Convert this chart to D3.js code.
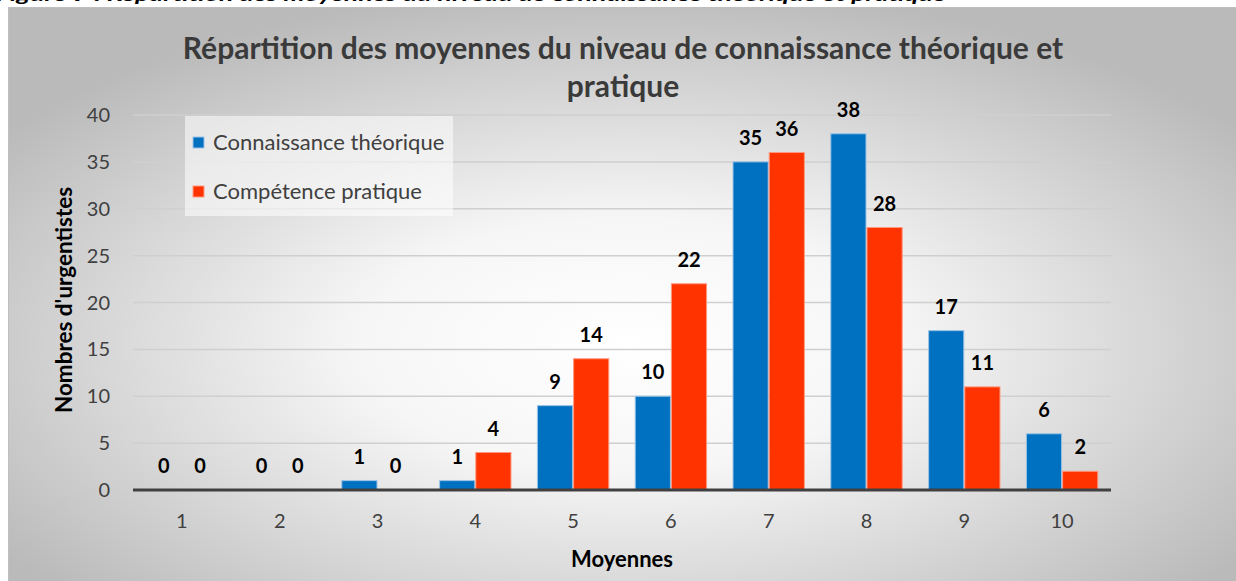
<!DOCTYPE html>
<html>
<head>
<meta charset="utf-8">
<script src="https://cdn.jsdelivr.net/npm/d3@7"></script>
<style>
  body { margin: 0; background: #fff; }
  svg { display: block; }
  text { font-family: Lato, "Open Sans", sans-serif; }
</style>
</head>
<body>
<div id="chart"></div>
<script>
var categories = ["1", "2", "3", "4", "5", "6", "7", "8", "9", "10"];
var seriesNames = ["Connaissance théorique", "Compétence pratique"];
var theorique = [0, 0, 1, 1, 9, 10, 35, 38, 17, 6];
var pratique = [0, 0, 0, 4, 14, 22, 36, 28, 11, 2];
var yTicks = [0, 5, 10, 15, 20, 25, 30, 35, 40];
var colors = ["#0070c0", "#ff3300"];
var strokes = ["#9dc3e6", "#ff9a80"];

var width = 1236, height = 581;
var margin = { top: 115, right: 125, bottom: 91, left: 133 };

var svg = d3.select("#chart").append("svg")
  .attr("width", width)
  .attr("height", height);

var defs = svg.append("defs");
var grad = defs.append("radialGradient")
  .attr("id", "bg")
  .attr("cx", 0.5).attr("cy", 0.58).attr("r", 0.62);
grad.append("stop").attr("offset", "0").attr("stop-color", "#ffffff");
grad.append("stop").attr("offset", "0.35").attr("stop-color", "#f6f6f6");
grad.append("stop").attr("offset", "1").attr("stop-color", "#bababa");

// caption of the page, cut at the top edge as in the scan
svg.append("text")
  .attr("x", -4).attr("y", 1)
  .attr("textLength", 950)
  .attr("lengthAdjust", "spacingAndGlyphs")
  .style("font-size", "17px")
  .style("font-weight", "bold")
  .style("font-style", "italic")
  .attr("fill", "#000")
  .text("Figure 9 : Répartition des moyennes du niveau de connaissance théorique et pratique");

svg.append("rect")
  .attr("x", 8.5).attr("y", 7.5)
  .attr("width", width).attr("height", height)
  .attr("fill", "url(#bg)")
  .attr("stroke", "#bfbfbf")
  .attr("stroke-width", 1);

var x0 = d3.scaleBand()
  .domain(categories)
  .range([margin.left, width - margin.right])
  .paddingInner(0.26)
  .paddingOuter(0.13);

var x1 = d3.scaleBand()
  .domain([0, 1])
  .range([0, x0.bandwidth()]);

var y = d3.scaleLinear()
  .domain([0, 40])
  .range([height - margin.bottom, margin.top]);

// gridlines
svg.append("g")
  .selectAll("line")
  .data(yTicks.slice(1))
  .enter().append("line")
  .attr("x1", margin.left).attr("x2", width - margin.right)
  .attr("y1", function (d) { return y(d); })
  .attr("y2", function (d) { return y(d); })
  .attr("stroke", "#cfcfcf")
  .attr("stroke-width", 1.5);

// y tick labels
svg.append("g")
  .selectAll("text")
  .data(yTicks)
  .enter().append("text")
  .attr("x", 110)
  .attr("y", function (d) { return y(d); })
  .attr("dy", "0.35em")
  .attr("text-anchor", "end")
  .attr("fill", "#404040")
  .style("font-size", "20px")
  .text(function (d) { return d; });

// bars
var groups = svg.append("g")
  .selectAll("g")
  .data(categories)
  .enter().append("g")
  .attr("transform", function (d) { return "translate(" + x0(d) + ",0)"; });

var series = [theorique, pratique];

groups.selectAll("rect")
  .data(function (d, i) { return series.map(function (s, k) { return { k: k, v: s[i] }; }); })
  .enter().append("rect")
  .attr("x", function (d) { return x1(d.k) + 0.5; })
  .attr("width", x1.bandwidth() - 1)
  .attr("y", function (d) { return y(d.v); })
  .attr("height", function (d) { return y(0) - y(d.v); })
  .attr("fill", function (d) { return colors[d.k]; })
  .attr("stroke", function (d) { return d.v > 0 ? strokes[d.k] : "none"; })
  .attr("stroke-width", 1);

groups.selectAll("text")
  .data(function (d, i) { return series.map(function (s, k) { return { k: k, v: s[i] }; }); })
  .enter().append("text")
  .attr("x", function (d) { return x1(d.k) + x1.bandwidth() / 2; })
  .attr("y", function (d) { return y(d.v) - 17; })
  .attr("text-anchor", "middle")
  .attr("fill", "#000")
  .style("font-size", "20px")
  .style("font-weight", "bold")
  .text(function (d) { return d.v; });

// x axis line
svg.append("line")
  .attr("x1", margin.left).attr("x2", width - margin.right)
  .attr("y1", y(0)).attr("y2", y(0))
  .attr("stroke", "#404040")
  .attr("stroke-width", 3);

// x tick labels
svg.append("g")
  .selectAll("text")
  .data(categories)
  .enter().append("text")
  .attr("x", function (d) { return x0(d) + x0.bandwidth() / 2; })
  .attr("y", 528)
  .attr("text-anchor", "middle")
  .attr("fill", "#404040")
  .style("font-size", "20px")
  .text(function (d) { return d; });

// titles
var title = svg.append("text")
  .attr("text-anchor", "middle")
  .attr("fill", "#3a3a3a")
  .style("font-size", "30px")
  .style("font-weight", "bold");
title.append("tspan").attr("x", 623).attr("y", 59)
  .text("Répartition des moyennes du niveau de connaissance théorique et");
title.append("tspan").attr("x", 623).attr("y", 97)
  .text("pratique");

svg.append("text")
  .attr("x", 622).attr("y", 567)
  .attr("text-anchor", "middle")
  .attr("fill", "#000")
  .style("font-size", "22px")
  .style("font-weight", "bold")
  .text("Moyennes");

svg.append("text")
  .attr("transform", "translate(72,300) rotate(-90)")
  .attr("text-anchor", "middle")
  .attr("fill", "#000")
  .style("font-size", "22.5px")
  .style("font-weight", "bold")
  .text("Nombres d'urgentistes");

// legend
var legend = svg.append("g");
legend.append("rect")
  .attr("x", 185).attr("y", 116)
  .attr("width", 268).attr("height", 100)
  .attr("fill", "#ffffff")
  .attr("fill-opacity", 0.55);

var items = legend.selectAll("g")
  .data(seriesNames)
  .enter().append("g")
  .attr("transform", function (d, i) { return "translate(193," + (137 + i * 49) + ")"; });

items.append("rect")
  .attr("width", 11).attr("height", 11)
  .attr("fill", function (d, i) { return colors[i]; })
  .attr("stroke", function (d, i) { return strokes[i]; })
  .attr("stroke-width", 1);

items.append("text")
  .attr("x", 20).attr("y", 5.5)
  .attr("dy", "0.35em")
  .attr("fill", "#404040")
  .style("font-size", "22px")
  .text(function (d) { return d; });
</script>
</body>
</html>
